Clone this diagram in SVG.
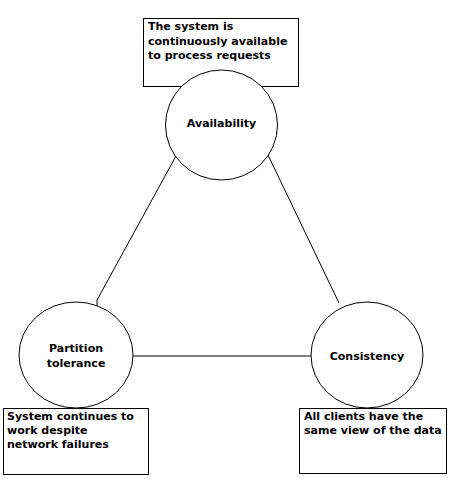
<svg xmlns="http://www.w3.org/2000/svg" width="450" height="479" viewBox="0 0 450 479">
<style>
.n{fill:#fff;stroke:#000;stroke-width:1}
.b{fill:#fff;stroke:#000;stroke-width:1}
.t{font-family:"DejaVu Sans",sans-serif;font-weight:bold;font-size:11px;fill:#000}
.c{stroke:#000;stroke-width:1;fill:none}
</style>
<rect width="450" height="479" fill="#fff"/>
<g id="connectors">
<path class="c" d="M176,156 L97,300 L97,306"/>
<path class="c" d="M268,155 L339,303"/>
<path class="c" d="M132,356 L312,356"/>
</g>
<g id="note-availability">
<rect class="b" x="143.5" y="18.5" width="155" height="68"/>
<text class="t" x="148" y="30">The system is</text>
<text class="t" x="148" y="44.5">continuously available</text>
<text class="t" x="148" y="59">to process requests</text>
</g>
<g id="availability">
<ellipse class="n" cx="221.5" cy="125" rx="56" ry="55"/>
<text class="t" x="221.5" y="127" text-anchor="middle">Availability</text>
</g>
<g id="partition">
<ellipse class="n" cx="76" cy="355" rx="57" ry="53"/>
<text class="t" x="76" y="352" text-anchor="middle">Partition</text>
<text class="t" x="76" y="367" text-anchor="middle">tolerance</text>
</g>
<g id="consistency">
<ellipse class="n" cx="367" cy="355" rx="56" ry="53"/>
<text class="t" x="367" y="360" text-anchor="middle">Consistency</text>
</g>
<g id="note-partition">
<rect class="b" x="3.5" y="408.5" width="145" height="66"/>
<text class="t" x="7" y="420">System continues to</text>
<text class="t" x="7" y="434">work despite</text>
<text class="t" x="7" y="448">network failures</text>
</g>
<g id="note-consistency">
<rect class="b" x="299.5" y="408.5" width="147" height="65"/>
<text class="t" x="304" y="420">All clients have the</text>
<text class="t" x="304" y="434">same view of the data</text>
</g>
</svg>
